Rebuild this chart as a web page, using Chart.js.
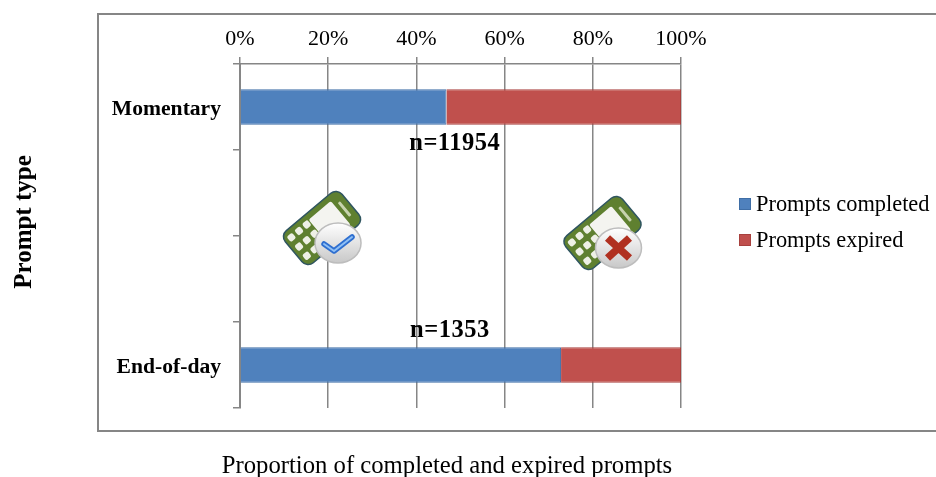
<!DOCTYPE html>
<html>
<head>
<meta charset="utf-8">
<title>Prompt type chart</title>
<script src="https://cdn.jsdelivr.net/npm/chart.js@4"></script>
<style>
    html, body { margin: 0; padding: 0; background: #fff; }
    #wrap { width: 936px; height: 477px; }
</style>
</head>
<body>
<div id="wrap"><canvas id="chart" width="936" height="477"></canvas></div>
<script>
// values
const categories = ['Momentary', '', '', 'End-of-day'];
const completed = [46.8, null, null, 72.8];
const expired = [53.2, null, null, 27.2];
const seriesNames = ['Prompts completed', 'Prompts expired'];
const tickStep = 20;
const sampleLabels = ['n=11954', '', '', 'n=1353'];
const sampleLabelAt = [48.7, null, null, 47.6];
const xTitle = 'Proportion of completed and expired prompts';
const yTitle = 'Prompt type';

const SERIF = '"Liberation Serif", serif';
const GREY = '#868686';

// outer frame, axis titles, legend and n= labels
const extras = {
    id: 'extras',
    beforeDraw(chart) {
        const ctx = chart.ctx;
        ctx.save();
        ctx.strokeStyle = GREY;
        ctx.lineWidth = 2;
        ctx.strokeRect(98, 14, 900, 417);
        ctx.restore();
    },
    afterDraw(chart) {
        const ctx = chart.ctx;
        const { x, y } = chart.scales;
        ctx.save();
        ctx.fillStyle = '#000';
        ctx.textAlign = 'center';
        ctx.textBaseline = 'middle';

        ctx.font = '24.7px ' + SERIF;
        ctx.fillText(xTitle, 447, 467);

        ctx.save();
        ctx.translate(25, 222);
        ctx.rotate(-Math.PI / 2);
        ctx.font = 'bold 25px ' + SERIF;
        ctx.fillText(yTitle, 0, 0);
        ctx.restore();

        ctx.font = 'bold 24.5px ' + SERIF;
        ctx.letterSpacing = '0.5px';
        sampleLabels.forEach((text, i) => {
            if (!text) return;
            // first label sits under its bar, the last one above it
            const offset = i === 0 ? 37 : -34;
            ctx.fillText(text, x.getPixelForValue(sampleLabelAt[i]), y.getPixelForValue(i) + offset);
        });
        ctx.letterSpacing = '0px';

        // legend, the built-in one leaves too wide a gap after the box
        ctx.textAlign = 'left';
        ctx.font = '22.4px ' + SERIF;
        chart.data.datasets.forEach((ds, i) => {
            const rowY = 204 + i * 36;
            ctx.fillStyle = ds.backgroundColor;
            ctx.fillRect(739, rowY - 6, 12, 12);
            ctx.strokeStyle = ds.borderColor;
            ctx.lineWidth = 1;
            ctx.strokeRect(739.5, rowY - 5.5, 11, 11);
            ctx.fillStyle = '#000';
            ctx.fillText(ds.label, 756, rowY + 1);
        });
        ctx.restore();

        drawPhone(ctx, x.getPixelForValue(18.6), 228, 'check');
        drawPhone(ctx, x.getPixelForValue(82.2), 233, 'cross');
    }
};

function roundedRect(ctx, x, y, w, h, r) {
    ctx.beginPath();
    ctx.roundRect(x, y, w, h, r);
}

function drawPhone(ctx, cx, cy, kind) {
    ctx.save();
    ctx.translate(cx, cy);
    ctx.save();
    ctx.rotate(-40 * Math.PI / 180);

    roundedRect(ctx, -37, -21, 74, 42, 8);
    ctx.fillStyle = '#5f8030';
    ctx.fill();
    ctx.strokeStyle = '#2f5560';
    ctx.lineWidth = 1.5;
    ctx.stroke();

    roundedRect(ctx, -5, -15, 29, 31, 2);
    ctx.fillStyle = '#f4f4f0';
    ctx.fill();

    ctx.fillStyle = '#eef0e6';
    for (let col = 0; col < 3; col++) {
        for (let row = 0; row < 3; row++) {
            roundedRect(ctx, -33 + col * 10, -16 + row * 12, 7, 7, 2);
            ctx.fill();
        }
    }
    roundedRect(ctx, 28, -9, 3, 18, 1);
    ctx.fillStyle = '#c7d3ae';
    ctx.fill();
    ctx.restore();

    // badge
    const bx = 16;
    const by = 15;
    const grad = ctx.createLinearGradient(0, by - 20, 0, by + 20);
    grad.addColorStop(0, '#ffffff');
    grad.addColorStop(1, '#c8c8c8');
    ctx.beginPath();
    ctx.ellipse(bx, by, 23, 20, 0, 0, Math.PI * 2);
    ctx.fillStyle = grad;
    ctx.fill();
    ctx.strokeStyle = '#bdbdbd';
    ctx.lineWidth = 1.5;
    ctx.stroke();

    ctx.lineJoin = 'round';
    ctx.lineCap = 'round';
    ctx.beginPath();
    if (kind === 'check') {
        ctx.moveTo(bx - 14, by + 1);
        ctx.lineTo(bx - 4, by + 8);
        ctx.lineTo(bx + 14, by - 6);
        ctx.strokeStyle = '#2f6fd0';
        ctx.lineWidth = 5.5;
        ctx.stroke();
        ctx.strokeStyle = '#8fc0f5';
        ctx.lineWidth = 2;
        ctx.stroke();
    } else {
        ctx.moveTo(bx - 11, by - 10);
        ctx.lineTo(bx + 11, by + 10);
        ctx.moveTo(bx + 11, by - 10);
        ctx.lineTo(bx - 11, by + 10);
        ctx.strokeStyle = '#b03020';
        ctx.lineWidth = 7.5;
        ctx.lineCap = 'butt';
        ctx.stroke();
    }
    ctx.restore();
}

const barShare = 0.41;

new Chart(document.getElementById('chart'), {
    type: 'bar',
    plugins: [extras],
    data: {
        labels: categories,
        datasets: [
            {
                label: seriesNames[0],
                data: completed,
                backgroundColor: '#4F81BD',
                borderColor: '#3f6ea6',
                borderWidth: 1,
                barPercentage: 1,
                categoryPercentage: barShare
            },
            {
                label: seriesNames[1],
                data: expired,
                backgroundColor: '#C0504D',
                borderColor: '#a8413e',
                borderWidth: 1,
                barPercentage: 1,
                categoryPercentage: barShare
            }
        ]
    },
    options: {
        indexAxis: 'y',
        responsive: false,
        animation: false,
        devicePixelRatio: 1,
        layout: { padding: { left: 0, top: 0, right: 255, bottom: 69 } },
        scales: {
            x: {
                position: 'top',
                stacked: true,
                min: 0,
                max: 100,
                afterFit(axis) { axis.height = 64; },
                border: { color: GREY, width: 1.5 },
                grid: { color: GREY, lineWidth: 1.5, tickLength: 7 },
                ticks: {
                    stepSize: tickStep,
                    maxRotation: 0,
                    color: '#000',
                    font: { family: SERIF, size: 22 },
                    padding: 5,
                    callback: v => v + '%'
                }
            },
            y: {
                stacked: true,
                afterFit(axis) { axis.width = 240; },
                border: { color: GREY, width: 2 },
                grid: { drawOnChartArea: false, color: GREY, lineWidth: 1.5, tickLength: 7 },
                ticks: {
                    autoSkip: false,
                    color: '#000',
                    font: { family: SERIF, size: 21.6, weight: 'bold' },
                    padding: 12,
                    labelOffset: 2
                }
            }
        },
        plugins: {
            title: { display: false },
            tooltip: { enabled: false },
            legend: { display: false }
        }
    }
});
</script>
</body>
</html>
